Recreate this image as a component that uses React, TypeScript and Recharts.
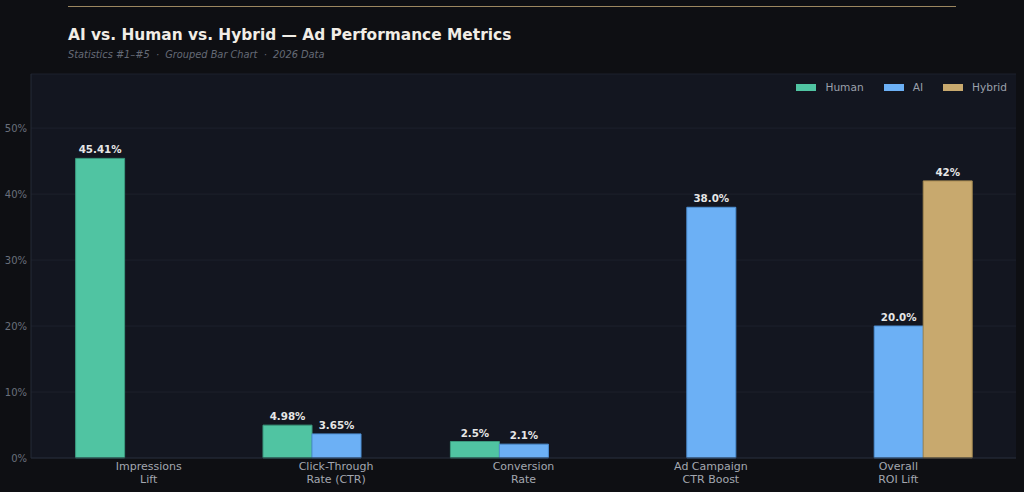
import React from 'react'
import { BarChart, Bar, XAxis, YAxis, CartesianGrid, LabelList } from 'recharts'

const categories = [
  'Impressions\nLift',
  'Click-Through\nRate (CTR)',
  'Conversion\nRate',
  'Ad Campaign\nCTR Boost',
  'Overall\nROI Lift',
]

const humanValues = [45.41, 4.98, 2.5, null, null]
const aiValues = [null, 3.65, 2.1, 38.0, 20.0]
const hybridValues = [null, null, null, null, 42]

const humanLabels = ['45.41%', '4.98%', '2.5%', '', '']
const aiLabels = ['', '3.65%', '2.1%', '38.0%', '20.0%']
const hybridLabels = ['', '', '', '', '42%']

const yTicks = [0, 10, 20, 30, 40, 50]

const FONT = '"DejaVu Sans", sans-serif'

const series = [
  { key: 'human', name: 'Human', fill: '#50c4a2', stroke: '#3b9a7e' },
  { key: 'ai', name: 'AI', fill: '#6cb0f5', stroke: '#4d8fd4' },
  { key: 'hybrid', name: 'Hybrid', fill: '#c8a96e', stroke: '#a48850' },
]

const data = categories.map((name, i) => ({
  name,
  human: humanValues[i],
  ai: aiValues[i],
  hybrid: hybridValues[i],
  humanLabel: humanLabels[i],
  aiLabel: aiLabels[i],
  hybridLabel: hybridLabels[i],
}))

const CategoryTick = (props: any) => {
  const { x, y, payload } = props
  const lines = String(payload.value).split('\n')
  return (
    <text x={x} y={y} textAnchor="middle" fill="#a3a7b0" fontSize={11} fontFamily={FONT}>
      {lines.map((line, i) => (
        <tspan key={i} x={x} dy={i === 0 ? 10 : 13}>{line}</tspan>
      ))}
    </text>
  )
}

const ValueLabel = (p: any) => {
  if (!p.value) return null
  return (
    <text
      x={p.x + p.width / 2}
      y={p.y - 5}
      textAnchor="middle"
      fill="#e6e6e6"
      fontSize={10.3}
      fontWeight="bold"
      fontFamily={FONT}
    >
      {p.value}
    </text>
  )
}

export default function App() {
  return (
    <div style={{ position: 'absolute', left: 0, top: 0, width: 1024, height: 492, background: '#0e0f13', overflow: 'hidden' }}>
      <div style={{ position: 'absolute', left: 68, top: 6, width: 888, height: 1, background: '#9c8760' }} />
      <div style={{ position: 'absolute', left: 68, top: 26, fontFamily: FONT, fontWeight: 'bold', fontSize: 15.4, color: '#f1ede6', whiteSpace: 'nowrap' }}>
        AI vs. Human vs. Hybrid — Ad Performance Metrics
      </div>
      <div style={{ position: 'absolute', left: 68, top: 49, fontFamily: FONT, fontStyle: 'italic', fontSize: 9.8, color: '#656a76', whiteSpace: 'pre' }}>
        {'Statistics #1–#5  ·  Grouped Bar Chart  ·  2026 Data'}
      </div>
      <div style={{ position: 'absolute', left: 0, top: 0 }}>
        <BarChart
          width={1024}
          height={492}
          data={data}
          margin={{ top: 74, right: 8, left: 0, bottom: 0 }}
          barCategoryGap="11%"
          barGap={0}
        >
          <CartesianGrid vertical={false} stroke="#1d212c" fill="#131620" />
          <XAxis
            dataKey="name"
            height={34}
            padding={{ left: 24, right: 24 }}
            axisLine={{ stroke: '#252a36' }}
            tickLine={false}
            tickSize={0}
            tickMargin={2}
            interval={0}
            tick={<CategoryTick />}
          />
          <YAxis
            width={31}
            domain={[0, 58.2]}
            ticks={yTicks}
            tickFormatter={(v: number) => `${v}%`}
            axisLine={{ stroke: '#252a36' }}
            tickLine={false}
            tickSize={0}
            tickMargin={4}
            tick={{ fontSize: 10, fill: '#6a6f7c', fontFamily: FONT }}
          />
          {series.map(s => (
            <Bar
              key={s.key}
              dataKey={s.key}
              name={s.name}
              fill={s.fill}
              stroke={s.stroke}
              strokeWidth={1}
              isAnimationActive={false}
            >
              <LabelList dataKey={`${s.key}Label`} content={<ValueLabel />} />
            </Bar>
          ))}
        </BarChart>
      </div>
      {/* legend row, top right of the plot panel */}
      <div style={{ position: 'absolute', right: 17, top: 81, display: 'flex', gap: 20, fontFamily: FONT, fontSize: 10.6, color: '#9ba0ab' }}>
        {series.map(s => (
          <div key={s.key} style={{ display: 'flex', alignItems: 'center' }}>
            <span style={{ display: 'inline-block', width: 20, height: 7, background: s.fill, marginRight: 9 }} />
            {s.name}
          </div>
        ))}
      </div>
    </div>
  )
}
